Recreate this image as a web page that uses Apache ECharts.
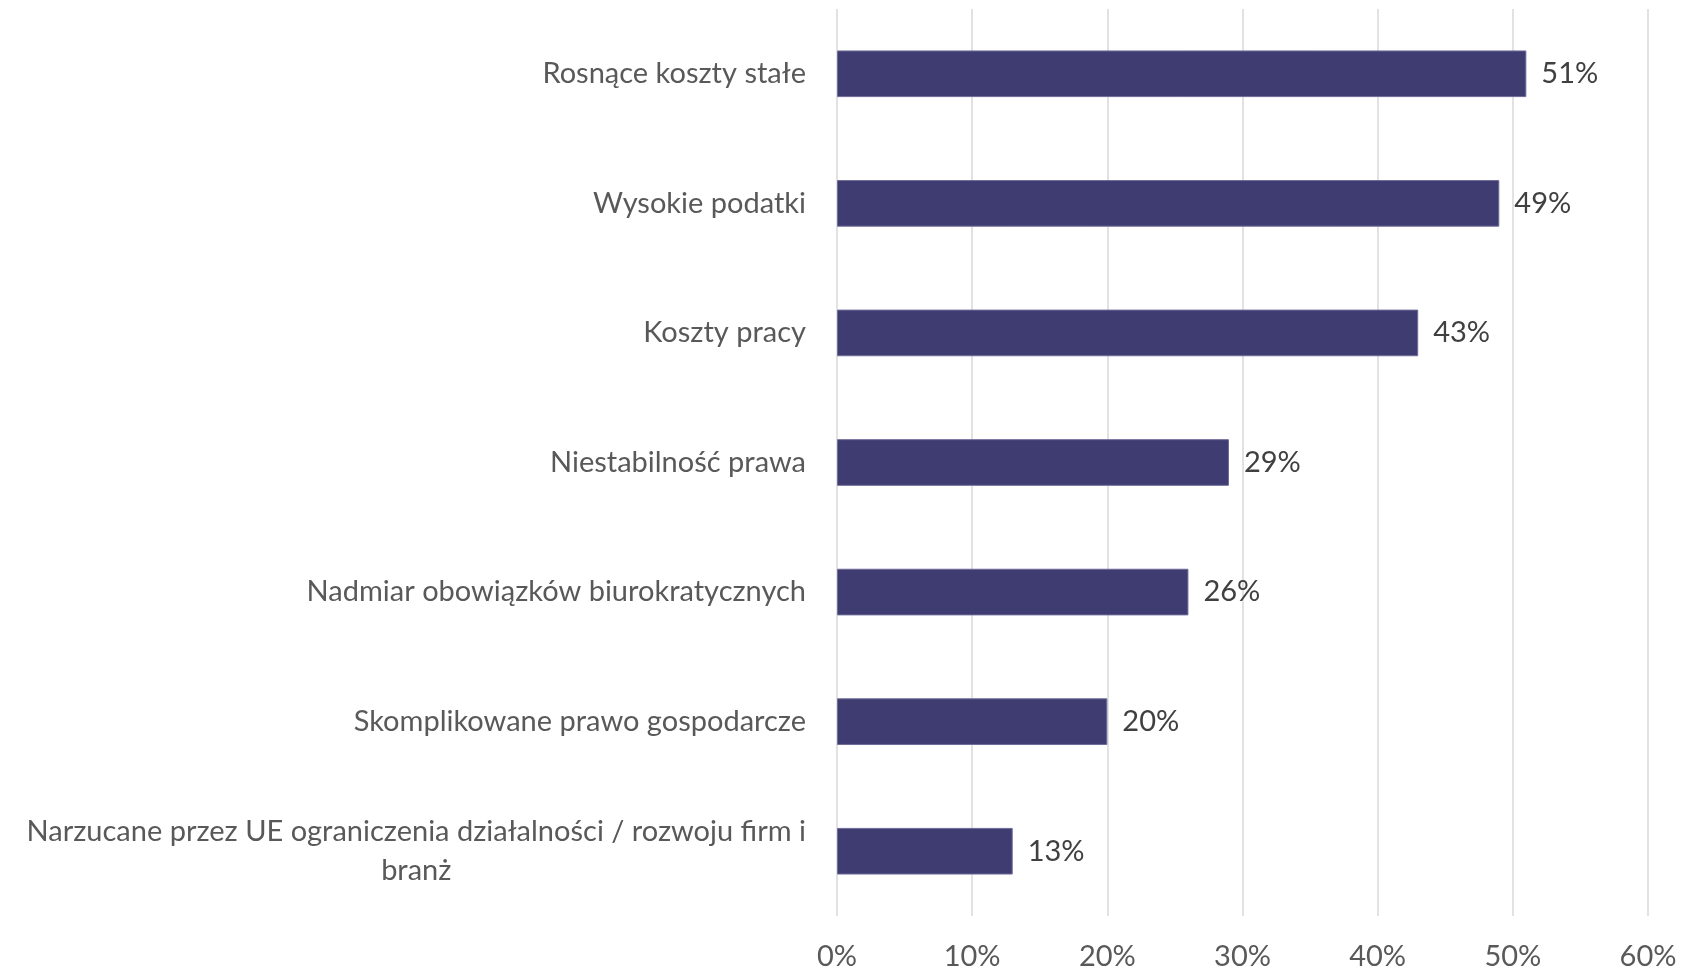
<!DOCTYPE html>
<html><head><meta charset="utf-8">
<script src="https://cdn.jsdelivr.net/npm/echarts@6/dist/echarts.min.js"></script>
<style>html,body{margin:0;padding:0;background:#fff}#c{width:1681px;height:971px}</style>
</head><body><div id="c"></div>
<script>
var categories = [
  "Rosnące koszty stałe",
  "Wysokie podatki",
  "Koszty pracy",
  "Niestabilność prawa",
  "Nadmiar obowiązków biurokratycznych",
  "Skomplikowane prawo gospodarcze",
  "Narzucane przez UE ograniczenia działalności / rozwoju firm i\nbranż"
];
var values = [51, 49, 43, 29, 26, 20, 13];
var xTicks = [0, 10, 20, 30, 40, 50, 60];

var FONT = 'Lato';
var FS = 29;
var chart = echarts.init(document.getElementById('c'));
chart.setOption({
  animation: false,
  grid: { left: 837, right: 33, top: 9, bottom: 55, containLabel: false },
  xAxis: {
    type: 'value', min: xTicks[0], max: xTicks[xTicks.length - 1], interval: 10,
    axisLine: { show: false }, axisTick: { show: false },
    splitLine: { lineStyle: { color: '#d9d9d9', width: 1.5 } },
    axisLabel: { formatter: '{value}%', color: '#595959', fontSize: FS, fontFamily: FONT, margin: 26 }
  },
  yAxis: {
    type: 'category', inverse: true, data: categories,
    axisLine: { show: false }, axisTick: { show: false },
    axisLabel: {
      margin: 31, color: '#595959', fontSize: FS, fontFamily: FONT, lineHeight: 39,
      formatter: function (v) {
        return v.split('\n').map(function (l) { return '{c|' + l + '}'; }).join('\n');
      },
      rich: { c: { align: 'center', color: '#595959', fontSize: FS, fontFamily: FONT, lineHeight: 39 } }
    }
  },
  series: [{
    type: 'bar', data: values, barCategoryGap: '64%',
    itemStyle: { color: '#3e3c71', borderColor: '#6e6c9a', borderWidth: 1 },
    label: { show: true, position: 'right', distance: 15, formatter: '{c}%', color: '#404040', fontSize: FS, fontFamily: FONT }
  }]
});
</script></body></html>
